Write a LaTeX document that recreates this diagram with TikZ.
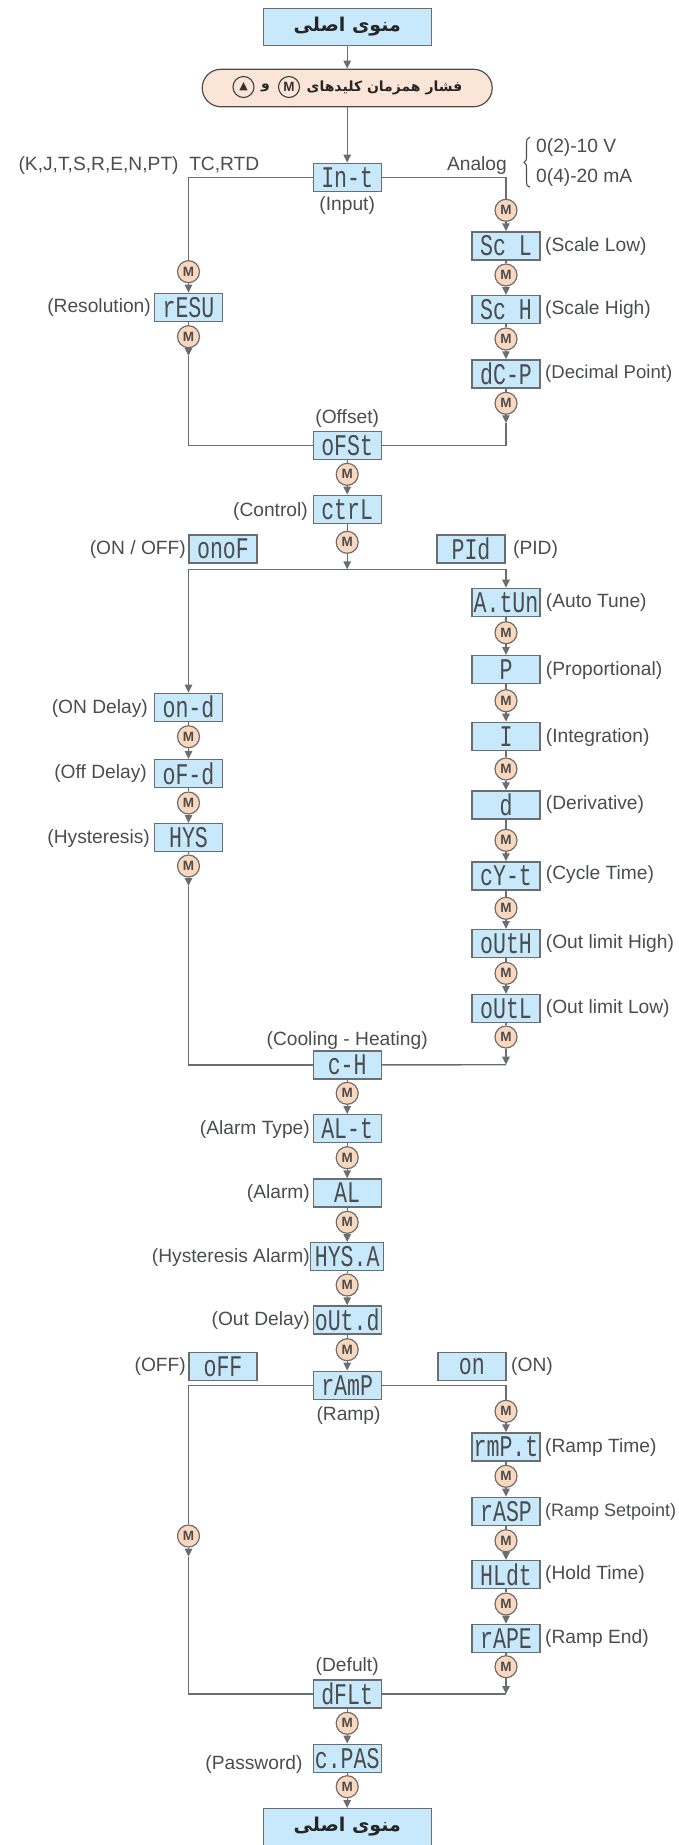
\documentclass[tikz,border=0pt]{standalone}
\usepackage{fontspec}
\usetikzlibrary{arrows.meta,shapes.misc}
\setmainfont{Liberation Sans}
\newfontfamily\lcdf{Liberation Mono}
\newfontfamily\arabicfont[Script=Arabic]{DejaVu Sans}
\newfontfamily\symf{DejaVu Sans}
\TeXXeTstate=1
\definecolor{ln}{HTML}{6B6E70}
\definecolor{boxb}{HTML}{C8E9FB}
\definecolor{peach}{HTML}{FBD8BD}
\definecolor{pillc}{HTML}{FBE5D6}
\definecolor{txt}{HTML}{4A4C4E}
\newcommand{\lcdtxt}[1]{\scalebox{.72}[1]{\lcdf\fontsize{30}{30}\selectfont #1}}
\newcommand{\fafont}[1]{\arabicfont\bfseries\fontsize{#1}{#1}\selectfont}
\tikzset{
  x=1pt,y=-1pt,
  >={Triangle[length=8pt,width=7.5pt]},
  ln/.style={draw=ln,line width=1.4pt},
  arr/.style={draw=ln,line width=1.4pt,->,>={Triangle[length=8pt,width=7.5pt]},color=ln},
  lcd/.style={draw=ln,fill=boxb,line width=1.4pt,minimum width=68pt,minimum height=28pt,inner sep=0pt,text=txt},
  menubox/.style={draw=ln,fill=boxb,line width=1.4pt,minimum width=168pt,minimum height=36.5pt,inner sep=0pt,text=black!85},
  pill/.style={rounded rectangle,draw=black!70,fill=pillc,line width=1.2pt,minimum width=290pt,minimum height=37.5pt,inner sep=0pt},
  mk/.style={circle,draw=ln,fill=peach,line width=1.2pt,minimum size=22pt,inner sep=0pt,text=txt,font=\fontsize{13.5}{14}\selectfont\bfseries},
  keyc/.style={circle,draw=black!75,line width=1.1pt,minimum size=21pt,inner sep=0pt,text=black!80,font=\fontsize{13.5}{14}\selectfont\bfseries},
  lab/.style={inner sep=0pt,text=txt,yshift=-1.5pt,font=\fontsize{19.2}{21}\selectfont},
  labl/.style={lab,anchor=west},
  labr/.style={lab,anchor=east},
}
\begin{document}
\begin{tikzpicture}
\useasboundingbox (0,0) rectangle (678,1845);
% main boxes
\node[menubox] (top) at (347.2,27) {\fafont{19}\beginR منوی اصلی\endR};
\node[pill] (pill) at (347.2,88) {};
\node[inner sep=0pt,text=black!85] (pilltxt) at (384.5,88) {\fafont{14}\beginR فشار همزمان کلیدهای\endR};
\node[keyc] (keyM) at (289,87) {M};
\node[inner sep=0pt,text=black!85] (pillo) at (265.5,88) {\fafont{14}\beginR و\endR};
\node[keyc,font=\symf\fontsize{11}{12}\selectfont] (keyU) at (243.5,87) {▲};
% centre column
\node[lcd] (int) at (347.2,177.3) {\lcdtxt{In-t}};
\node[lcd] (ofst) at (347.2,445.5) {\lcdtxt{oFSt}};
\node[mk] (m30) at (347.2,474.3) {M};
\node[lcd] (ctrl) at (347.2,509.3) {\lcdtxt{ctrL}};
\node[mk] (m31) at (347.2,542.3) {M};
\node[lcd] (ch) at (347.2,1065) {\lcdtxt{c-H}};
\node[mk] (m32) at (347.2,1093.3) {M};
\node[lcd] (alt) at (347.2,1128.7) {\lcdtxt{AL-t}};
\node[mk] (m33) at (347.2,1157.7) {M};
\node[lcd] (al) at (347.2,1193) {\lcdtxt{AL}};
\node[mk] (m34) at (347.2,1222.3) {M};
\node[lcd,minimum width=73pt] (hysa) at (347.2,1256.7) {\lcdtxt{HYS.A}};
\node[mk] (m35) at (347.2,1285) {M};
\node[lcd] (outd) at (347.2,1320) {\lcdtxt{oUt.d}};
\node[mk] (m36) at (347.2,1349.7) {M};
\node[lcd] (ramp) at (347.2,1385.3) {\lcdtxt{rAmP}};
\node[lcd] (dflt) at (347.2,1694) {\lcdtxt{dFLt}};
\node[mk] (m37) at (347.2,1723.3) {M};
\node[lcd] (cpas) at (347.2,1758.3) {\lcdtxt{c.PAS}};
\node[mk] (m38) at (347.2,1786.7) {M};
\node[menubox] (bot) at (347.2,1827) {\fafont{19}\beginR منوی اصلی\endR};
% left column
\node[mk] (m10) at (188.5,271.7) {M};
\node[lcd] (resu) at (188.5,307.3) {\lcdtxt{rESU}};
\node[mk] (m11) at (188.5,336.7) {M};
\node[lcd] (ond) at (188.5,707.3) {\lcdtxt{on-d}};
\node[mk] (m12) at (188.5,736.7) {M};
\node[lcd] (ofd) at (188.5,773.7) {\lcdtxt{oF-d}};
\node[mk] (m13) at (188.5,803) {M};
\node[lcd] (hys) at (188.5,837.7) {\lcdtxt{HYS}};
\node[mk] (m14) at (188.5,866) {M};
\node[mk] (m15) at (188.5,1536) {M};
% right column
\node[mk] (m20) at (506,210.3) {M};
\node[lcd] (scl) at (506,246) {\lcdtxt{Sc L}};
\node[mk] (m21) at (506,275) {M};
\node[lcd] (sch) at (506,309.7) {\lcdtxt{Sc H}};
\node[mk] (m22) at (506,339) {M};
\node[lcd] (dcp) at (506,374) {\lcdtxt{dC-P}};
\node[mk] (m23) at (506,403.3) {M};
\node[lcd] (atun) at (506,602.3) {\lcdtxt{A.tUn}};
\node[mk] (m24) at (506,632.7) {M};
\node[lcd] (p) at (506,669.7) {\lcdtxt{P}};
\node[mk] (m25) at (506,700.7) {M};
\node[lcd] (i) at (506,736.3) {\lcdtxt{I}};
\node[mk] (m26) at (506,769) {M};
\node[lcd] (d) at (506,805) {\lcdtxt{d}};
\node[mk] (m27) at (506,840.3) {M};
\node[lcd] (cyt) at (506,876) {\lcdtxt{cY-t}};
\node[mk] (m28) at (506,908.3) {M};
\node[lcd] (outh) at (506,943.7) {\lcdtxt{oUtH}};
\node[mk] (m29) at (506,973.3) {M};
\node[lcd] (outl) at (506,1008.7) {\lcdtxt{oUtL}};
\node[mk] (m2a) at (506,1037) {M};
\node[mk] (m40) at (506,1411.3) {M};
\node[lcd] (rmpt) at (506,1447) {\lcdtxt{rmP.t}};
\node[mk] (m41) at (506,1476.3) {M};
\node[lcd] (rasp) at (506,1511.3) {\lcdtxt{rASP}};
\node[mk] (m42) at (506,1540.7) {M};
\node[lcd] (hldt) at (506,1574.7) {\lcdtxt{HLdt}};
\node[mk] (m43) at (506,1604) {M};
\node[lcd] (rape) at (506,1638.3) {\lcdtxt{rAPE}};
\node[mk] (m44) at (506,1666.7) {M};
% side option boxes
\node[lcd] (onof) at (223,549) {\lcdtxt{onoF}};
\node[lcd] (pid) at (471,549) {\lcdtxt{PId}};
\node[lcd] (off) at (223,1366.3) {\lcdtxt{oFF}};
\node[lcd] (on) at (471.8,1366.3) {\lcdtxt{on}};
% free coordinates
\coordinate (tipa) at (188.5,356);
\coordinate (tipb) at (506,423.3);
\coordinate (jc) at (347.2,569.3);
\coordinate (tipc) at (188.5,886);
\coordinate (tipd) at (506,1064.7);
\coordinate (tipe) at (188.5,1556.7);
\coordinate (tipf) at (506,1694);
% connectors
\draw[arr] (top) -- (pill);
\draw[arr] (pill) -- (int);
\draw[ln] (int) -| (m10);
\draw[ln] (int) -| (m20);
\draw[arr] (m10) -- (resu);
\draw[ln] (resu) -- (m11);
\draw[arr] (m11) -- (tipa);
\draw[ln] (tipa) |- (ofst);
\draw[arr] (m20) -- (scl);
\draw[ln] (scl) -- (m21);
\draw[arr] (m21) -- (sch);
\draw[ln] (sch) -- (m22);
\draw[arr] (m22) -- (dcp);
\draw[ln] (dcp) -- (m23);
\draw[arr] (m23) -- (tipb);
\draw[ln] (tipb) |- (ofst);
\draw[ln] (ofst) -- (m30);
\draw[arr] (m30) -- (ctrl);
\draw[ln] (ctrl) -- (m31);
\draw[arr] (m31) -- (jc);
\draw[arr] (jc) -| (ond);
\draw[arr] (jc) -| (atun);
\draw[ln] (ond) -- (m12);
\draw[arr] (m12) -- (ofd);
\draw[ln] (ofd) -- (m13);
\draw[arr] (m13) -- (hys);
\draw[ln] (hys) -- (m14);
\draw[arr] (m14) -- (tipc);
\draw[ln] (tipc) |- (ch);
\draw[ln] (atun) -- (m24);
\draw[arr] (m24) -- (p);
\draw[ln] (p) -- (m25);
\draw[arr] (m25) -- (i);
\draw[ln] (i) -- (m26);
\draw[arr] (m26) -- (d);
\draw[ln] (d) -- (m27);
\draw[arr] (m27) -- (cyt);
\draw[ln] (cyt) -- (m28);
\draw[arr] (m28) -- (outh);
\draw[ln] (outh) -- (m29);
\draw[arr] (m29) -- (outl);
\draw[ln] (outl) -- (m2a);
\draw[arr] (m2a) -- (tipd);
\draw[ln] (tipd) -- (ch);
\draw[ln] (ch) -- (m32);
\draw[arr] (m32) -- (alt);
\draw[ln] (alt) -- (m33);
\draw[arr] (m33) -- (al);
\draw[ln] (al) -- (m34);
\draw[arr] (m34) -- (hysa);
\draw[ln] (hysa) -- (m35);
\draw[arr] (m35) -- (outd);
\draw[ln] (outd) -- (m36);
\draw[arr] (m36) -- (ramp);
\draw[ln] (ramp) -| (m15);
\draw[ln] (ramp) -| (m40);
\draw[arr] (m15) -- (tipe);
\draw[ln] (tipe) |- (dflt);
\draw[arr] (m40) -- (rmpt);
\draw[ln] (rmpt) -- (m41);
\draw[arr] (m41) -- (rasp);
\draw[ln] (rasp) -- (m42);
\draw[arr] (m42) -- (hldt);
\draw[ln] (hldt) -- (m43);
\draw[arr] (m43) -- (rape);
\draw[ln] (rape) -- (m44);
\draw[arr] (m44) -- (tipf);
\draw[ln] (tipf) -- (dflt);
\draw[ln] (dflt) -- (m37);
\draw[arr] (m37) -- (cpas);
\draw[ln] (cpas) -- (m38);
\draw[arr] (m38) -- (bot);
% labels
\node[labr] (l01) at (259.5,163.7) {(K,J,T,S,R,E,N,PT)\ \ TC,RTD};
\node[labr] (l02) at (507,163.7) {Analog};
\node[labl] (l03) at (536,146) {0(2)-10 V};
\node[labl] (l04) at (536,175.7) {0(4)-20 mA};
\node[lab] (l05) at (347.2,204) {(Input)};
\node[labl] (l06) at (545,244.7) {(Scale Low)};
\node[labl] (l07) at (545,308.3) {(Scale High)};
\node[labl,font=\fontsize{18.6}{21}\selectfont] (l08) at (545,372.3) {(Decimal Point)};
\node[labr] (l09) at (151,305.7) {(Resolution)};
\node[lab] (l10) at (347.2,416.7) {(Offset)};
\node[labr] (l11) at (308,509.6) {(Control)};
\node[labr] (l12) at (186,547.7) {(ON / OFF)};
\node[labl] (l13) at (513,548) {(PID)};
\node[labl] (l14) at (545.7,600.7) {(Auto Tune)};
\node[labl] (l15) at (545.7,668.7) {(Proportional)};
\node[labl] (l16) at (545.7,735.7) {(Integration)};
\node[labl] (l17) at (545.7,803.3) {(Derivative)};
\node[labl] (l18) at (545.7,873.3) {(Cycle Time)};
\node[labl] (l19) at (545.7,942.3) {(Out limit High)};
\node[labl] (l20) at (545.7,1007.3) {(Out limit Low)};
\node[labr] (l21) at (148,706.7) {(ON Delay)};
\node[labr] (l22) at (147,772.3) {(Off Delay)};
\node[labr] (l23) at (150,836.7) {(Hysteresis)};
\node[lab] (l24) at (347.2,1038.7) {(Cooling - Heating)};
\node[labr] (l25) at (310,1128) {(Alarm Type)};
\node[labr] (l26) at (310,1191.7) {(Alarm)};
\node[labr] (l27) at (310,1255.7) {(Hysteresis Alarm)};
\node[labr] (l28) at (310,1318.7) {(Out Delay)};
\node[labr] (l29) at (186,1365) {(OFF)};
\node[labl] (l30) at (511,1365) {(ON)};
\node[lab] (l31) at (348.5,1414) {(Ramp)};
\node[labl] (l32) at (545,1445.7) {(Ramp Time)};
\node[labl,font=\fontsize{18}{21}\selectfont] (l33) at (545,1510) {(Ramp Setpoint)};
\node[labl] (l34) at (545,1573.3) {(Hold Time)};
\node[labl] (l35) at (545,1636.7) {(Ramp End)};
\node[lab] (l36) at (347.2,1665) {(Defult)};
\node[labr] (l37) at (302.7,1762.7) {(Password)};
% brace
\draw[draw=txt,line width=1.1pt] (530,137) .. controls (527,138) and (526.5,140) .. (526.5,144) -- (526.5,156) .. controls (526.5,160) and (526,161.5) .. (524,162.3) .. controls (526,163) and (526.5,165) .. (526.5,169) -- (526.5,181) .. controls (526.5,185) and (527,186.5) .. (530,187.3);
\end{tikzpicture}
\end{document}
